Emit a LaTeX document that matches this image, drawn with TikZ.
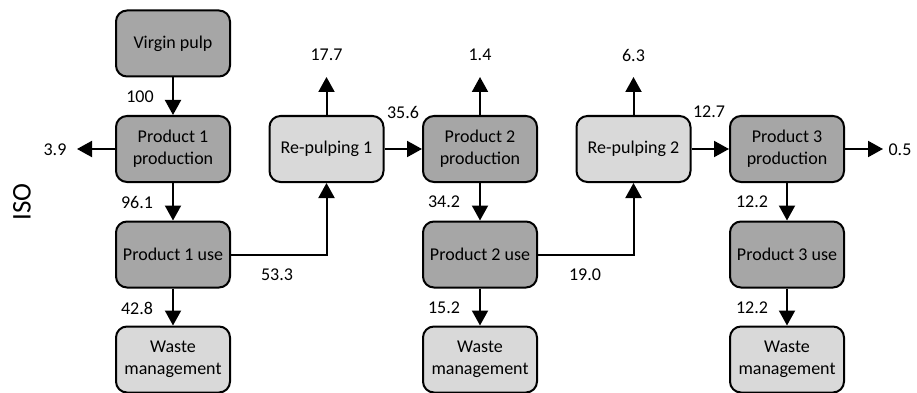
\documentclass[tikz,border=0pt]{standalone}
\usepackage{fontspec}
\setmainfont{Carlito}
\usetikzlibrary{arrows.meta,calc}
\definecolor{darkbox}{HTML}{A6A6A6}
\definecolor{lightbox}{HTML}{D9D9D9}
\begin{document}
\begin{tikzpicture}[x=1pt,y=-1pt,
  box/.style={draw=black,line width=2pt,rounded corners=11pt,minimum width=114pt,minimum height=66pt,
    inner sep=0pt,align=center,font=\fontsize{18}{22}\selectfont},
  dbox/.style={box,fill=darkbox},
  lbox/.style={box,fill=lightbox},
  lab/.style={inner sep=0pt,font=\fontsize{18}{22}\selectfont},
  flow/.style={draw=black,line width=2pt,-{Triangle[length=15pt,width=16pt]}}
]
\useasboundingbox (0,0) rectangle (917,393);
% nodes
\node[dbox] (vp) at (173,43.5) {Virgin pulp};
\node[dbox] (p1p) at (173,149) {Product 1\\production};
\node[dbox] (p1u) at (173,254.5) {Product 1 use};
\node[lbox] (w1) at (173,359.5) {Waste\\management};
\node[lbox] (rp1) at (326.5,149) {Re-pulping 1};
\node[dbox] (p2p) at (480,149) {Product 2\\production};
\node[dbox] (p2u) at (480,254.5) {Product 2 use};
\node[lbox] (w2) at (480,359.5) {Waste\\management};
\node[lbox] (rp2) at (633.5,149) {Re-pulping 2};
\node[dbox] (p3p) at (787,149) {Product 3\\production};
\node[dbox] (p3u) at (787,254.5) {Product 3 use};
\node[lbox] (w3) at (787,359.5) {Waste\\management};
% free ends
\coordinate (o1) at (77,149);
\coordinate (o2) at (326.5,77);
\coordinate (o3) at (480,77);
\coordinate (o4) at (633.5,77);
\coordinate (o5) at (883,149);
% connectors
\draw[flow] (vp) -- (p1p);
\draw[flow] (p1p) -- (o1);
\draw[flow] (p1p) -- (p1u);
\draw[flow] (p1u) -- (w1);
\draw[flow] (p1u.east) -| (rp1.south);
\draw[flow] (rp1) -- (o2);
\draw[flow] (rp1) -- (p2p);
\draw[flow] (p2p) -- (o3);
\draw[flow] (p2p) -- (p2u);
\draw[flow] (p2u) -- (w2);
\draw[flow] (p2u.east) -| (rp2.south);
\draw[flow] (rp2) -- (o4);
\draw[flow] (rp2) -- (p3p);
\draw[flow] (p3p) -- (o5);
\draw[flow] (p3p) -- (p3u);
\draw[flow] (p3u) -- (w3);
% labels
\node[lab] (l100) at (140,97) {100};
\node[lab] (l39) at (55,150) {3.9};
\node[lab] (l961) at (137,202) {96.1};
\node[lab] (l428) at (137,308) {42.8};
\node[lab] (l533) at (277,275) {53.3};
\node[lab] (l177) at (326.5,55) {17.7};
\node[lab] (l356) at (403,112) {35.6};
\node[lab] (l14) at (480,55) {1.4};
\node[lab] (l342) at (444,202) {34.2};
\node[lab] (l152) at (444,308) {15.2};
\node[lab] (l190) at (585,275) {19.0};
\node[lab] (l63) at (633.5,55) {6.3};
\node[lab] (l127) at (709,112) {12.7};
\node[lab] (l122a) at (752,202) {12.2};
\node[lab] (l122b) at (752,308) {12.2};
\node[lab] (l05) at (900,150) {0.5};
\node[inner sep=0pt,rotate=90,font=\fontsize{27}{32}\selectfont] (iso) at (22,202) {ISO};
\end{tikzpicture}
\end{document}
